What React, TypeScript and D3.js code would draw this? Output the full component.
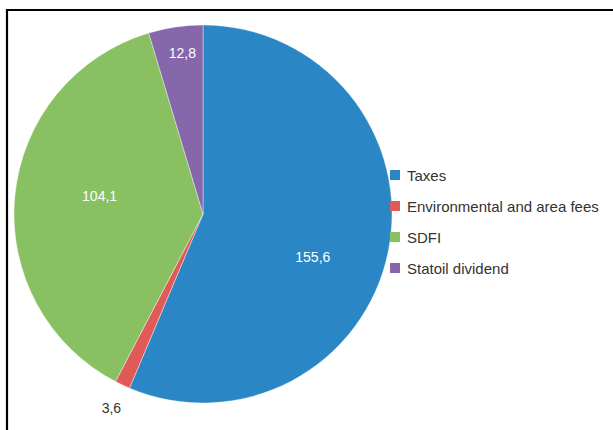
import React from "react";
import * as d3 from "d3";

const categories = ["Taxes", "Environmental and area fees", "SDFI", "Statoil dividend"];
const values = [155.6, 3.6, 104.1, 12.8];
const valueLabels = ["155,6", "3,6", "104,1", "12,8"];
const colors = ["#2a86c4", "#e05a58", "#88c062", "#8667ab"];

// label placement (style): radius from centre and angle shift in degrees
const labelRadius = [118, 215, 105, 162];
const labelAngleShift = [10, 0, 4.5, 1];
const labelInside = [true, false, true, true];

export default function App() {
  const W = 613, H = 430;
  const cx = 203, cy = 214, r = 189;
  const pie = d3.pie<number>().sort(null).value((d) => d)(values);
  const arc = d3.arc<d3.PieArcDatum<number>>().innerRadius(0).outerRadius(r);

  return (
    <svg width={W} height={H} style={{ position: "absolute", left: 0, top: 0, fontFamily: "'Liberation Sans', Arial, sans-serif" }}>
      <rect x={0} y={0} width={W} height={H} fill="#fff" />
      <path d={`M7,${H} L7,10 L${W},10`} fill="none" stroke="#000" strokeWidth={2.2} />
      <g transform={`translate(${cx},${cy})`}>
        {pie.map((p, i) => (
          <path key={i} d={arc(p) || ""} fill={colors[i]} stroke="#fff" strokeWidth={0.4} />
        ))}
        {pie.map((p, i) => {
          const a = (p.startAngle + p.endAngle) / 2 + (labelAngleShift[i] * Math.PI) / 180;
          const x = labelRadius[i] * Math.sin(a);
          const y = -labelRadius[i] * Math.cos(a);
          return (
            <text key={i} x={x} y={y} textAnchor="middle" dominantBaseline="central" fontSize={14}
              fill={labelInside[i] ? "#fff" : "#333"}>
              {valueLabels[i]}
            </text>
          );
        })}
      </g>
      <g>
        {categories.map((c, i) => (
          <g key={c} transform={`translate(390,${181 + i * 31})`}>
            <rect x={0} y={-11} width={10} height={10} fill={colors[i]} />
            <text x={17} y={0} fontSize={15} fill="#333">{c}</text>
          </g>
        ))}
      </g>
    </svg>
  );
}
